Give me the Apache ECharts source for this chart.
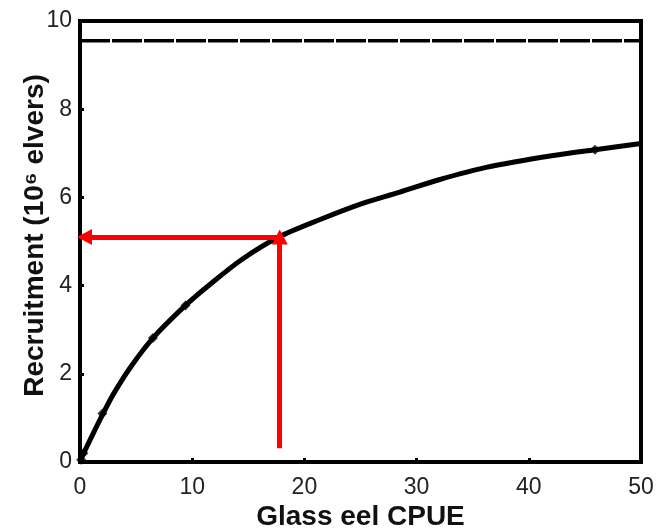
<!DOCTYPE html>
<html>
<head>
<meta charset="utf-8">
<script src="https://cdn.jsdelivr.net/npm/echarts@6/dist/echarts.min.js"></script>
<style>
html,body{margin:0;padding:0;background:#fff;}
#c{width:668px;height:528px;}
</style>
</head>
<body>
<div id="c"></div>
<script>
// Curve values
const cpue        = [0, 0.3, 1.2, 2.1, 3.0, 4.5, 6.5, 9.4, 11.6, 14.3, 17.7, 21.4, 25.0, 28.5, 32.0, 36.2, 42.2, 45.9, 50];
const recruitment = [0, 0.18, 0.66, 1.12, 1.55, 2.15, 2.81, 3.55, 4.03, 4.57, 5.10, 5.50, 5.85, 6.12, 6.40, 6.68, 6.95, 7.08, 7.22];
// Visible observation markers on the curve
const markerCpue = [0.1, 0.3, 2.0, 6.5, 9.4, 45.9];
const markerRec  = [0.05, 0.2, 1.10, 2.81, 3.55, 7.08];
// Asymptote (dashed line)
const asymptoteX = [0, 50];
const asymptoteY = [9.55, 9.55];
// Red arrow reading: CPUE -> recruitment
const arrowCpue = 17.8;
const arrowRec = 5.10;
const arrowStartRec = 0.31;
const arrowEndCpue = 0.4;
// Axis ticks
const xTicks = [0, 10, 20, 30, 40, 50];
const yTicks = [0, 2, 4, 6, 8, 10];

const chart = echarts.init(document.getElementById('c'), null, {renderer: 'canvas'});
const font = '"Liberation Sans", Arial, sans-serif';
chart.setOption({
  animation: false,
  backgroundColor: '#fff',
  grid: {left: 80, right: 27, top: 21, bottom: 66, show: true, borderColor: '#000', borderWidth: 4,
         containLabel: false, outerBoundsMode: 'none'},
  xAxis: {
    type: 'value', min: xTicks[0], max: xTicks[xTicks.length - 1], interval: xTicks[1] - xTicks[0],
    name: 'Glass eel CPUE', nameLocation: 'middle', nameGap: 41, nameMoveOverlap: false,
    nameTextStyle: {fontFamily: font, fontSize: 28, fontWeight: 'bold', color: '#111'},
    axisLine: {show: true, onZero: false, lineStyle: {color: '#000', width: 4}},
    axisTick: {show: true, inside: true, length: 4, lineStyle: {color: '#000', width: 3}},
    axisLabel: {fontFamily: font, fontSize: 23, color: '#222', margin: 14},
    splitLine: {show: false}
  },
  yAxis: {
    type: 'value', min: yTicks[0], max: yTicks[yTicks.length - 1], interval: yTicks[1] - yTicks[0],
    name: 'Recruitment (10\u2076 elvers)', nameLocation: 'middle', nameGap: 31, nameMoveOverlap: false,
    nameTextStyle: {fontFamily: font, fontSize: 28, fontWeight: 'bold', color: '#111', padding: [0, 0, 0, 12]},
    axisLine: {show: true, onZero: false, lineStyle: {color: '#000', width: 4}},
    axisTick: {show: true, inside: true, length: 4, lineStyle: {color: '#000', width: 3}},
    axisLabel: {fontFamily: font, fontSize: 23, color: '#222', margin: 8},
    splitLine: {show: false}
  },
  series: [
    {
      type: 'line', silent: true,
      data: asymptoteX.map((x, i) => [x, asymptoteY[i]]),
      symbol: 'none',
      lineStyle: {color: '#000', width: 3.5, type: [30, 2]},
      z: 2
    },
    {
      type: 'line', silent: true,
      data: cpue.map((x, i) => [x, recruitment[i]]),
      symbol: 'none', smooth: 0.3,
      lineStyle: {color: '#000', width: 5},
      z: 3
    },
    {
      type: 'scatter', silent: true,
      data: markerCpue.map((x, i) => [x, markerRec[i]]),
      symbol: 'diamond', symbolSize: 10,
      itemStyle: {color: '#000'},
      z: 4
    },
    {
      type: 'line', silent: true, data: [], symbol: 'none',
      markLine: {
        silent: true, animation: false,
        symbol: ['none', 'triangle'], symbolSize: [16, 15],
        label: {show: false},
        lineStyle: {color: '#ff0000', width: 5, type: 'solid'},
        data: [
          [{coord: [arrowCpue, arrowStartRec]}, {coord: [arrowCpue, arrowRec]}],
          [{coord: [arrowCpue, arrowRec]}, {coord: [arrowEndCpue, arrowRec]}]
        ]
      },
      z: 5
    }
  ]
});
</script>
</body>
</html>
